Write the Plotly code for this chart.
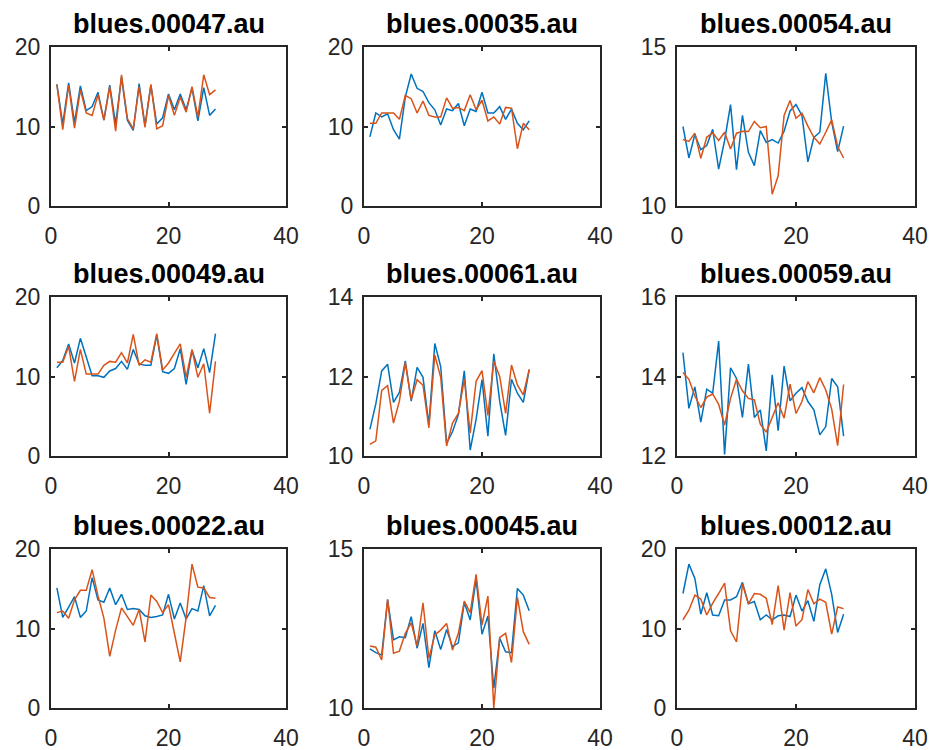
import plotly.graph_objects as go

frames = list(range(1, 29))

titles = ["blues.00047.au", "blues.00035.au", "blues.00054.au",
          "blues.00049.au", "blues.00061.au", "blues.00059.au",
          "blues.00022.au", "blues.00045.au", "blues.00012.au"]

blue_00047 = [15.3, 10.3, 15.5, 10.5, 15.1, 12.0, 12.5, 14.3, 10.8, 15.2, 10.3, 16.2, 10.8, 9.5,
              15.4, 10.1, 15.2, 10.3, 11.1, 14.1, 12.1, 14.1, 12.1, 14.8, 10.7, 14.9, 11.4, 12.2]
orange_00047 = [15.3, 9.6, 15.2, 9.8, 14.6, 11.7, 11.4, 14.0, 10.8, 15.0, 9.4, 16.5, 11.0, 9.7,
                15.0, 9.9, 15.3, 9.7, 10.1, 13.9, 11.4, 13.7, 11.8, 15.0, 11.2, 16.5, 14.0, 14.6]

blue_00035 = [8.7, 11.7, 11.2, 11.6, 9.6, 8.4, 13.7, 16.6, 14.8, 14.4, 13.0, 12.1, 10.2, 12.2,
              12.0, 12.9, 10.1, 12.2, 11.9, 14.3, 11.7, 11.7, 12.5, 10.9, 12.2, 10.4, 9.6, 10.7]
orange_00035 = [10.4, 10.4, 11.7, 11.7, 11.7, 10.9, 13.9, 13.5, 11.7, 13.2, 11.4, 11.2, 11.2, 13.6,
                12.3, 12.4, 12.0, 14.0, 12.1, 13.3, 10.7, 11.2, 10.3, 12.4, 12.3, 7.2, 10.4, 9.6]

blue_00054 = [12.50, 11.51, 12.25, 11.77, 11.90, 12.41, 11.16, 12.06, 13.19, 11.14, 12.85, 11.69, 11.27, 12.37,
              12.00, 12.09, 11.98, 12.35, 12.99, 13.19, 12.85, 11.39, 12.16, 12.32, 14.17, 12.64, 11.71, 12.51]
orange_00054 = [12.09, 12.03, 12.29, 11.50, 12.16, 12.30, 12.06, 12.32, 11.79, 12.29, 12.35, 12.34, 12.66, 12.46,
                12.50, 10.37, 10.95, 12.85, 13.32, 12.76, 12.92, 12.51, 12.16, 11.95, 12.32, 12.71, 11.87, 11.51]

blue_00049 = [11.1, 12.0, 14.1, 11.7, 14.8, 12.5, 10.1, 10.1, 9.9, 10.7, 11.0, 11.9, 10.9, 13.4,
              11.6, 11.4, 11.4, 15.2, 10.6, 10.4, 11.0, 13.5, 9.0, 13.3, 11.1, 13.5, 10.5, 15.4]
orange_00049 = [11.8, 11.8, 13.8, 9.4, 13.4, 10.3, 10.3, 10.3, 11.4, 11.9, 11.8, 13.0, 11.7, 15.3,
                11.4, 12.1, 11.8, 15.4, 10.8, 11.7, 12.9, 14.1, 9.9, 13.4, 9.9, 11.6, 5.4, 11.9]

blue_00061 = [10.67, 11.31, 12.14, 12.31, 11.35, 11.60, 12.39, 11.38, 12.23, 11.98, 10.79, 12.83, 12.25, 10.32,
              10.61, 11.04, 12.14, 10.15, 10.92, 11.92, 10.50, 12.57, 11.38, 10.52, 11.93, 11.58, 11.35, 12.17]
orange_00061 = [10.29, 10.38, 11.65, 11.77, 10.83, 11.38, 12.35, 11.42, 11.92, 11.78, 10.71, 12.54, 11.98, 10.25,
                10.83, 11.07, 11.93, 10.58, 11.88, 12.15, 11.02, 12.38, 12.00, 11.07, 12.29, 11.79, 11.54, 12.18]

blue_00059 = [14.60, 13.20, 13.74, 12.85, 13.68, 13.58, 14.89, 12.04, 14.22, 13.95, 12.97, 14.31, 12.97, 13.16,
              12.13, 14.04, 12.64, 14.26, 13.39, 13.58, 13.72, 13.37, 13.16, 12.53, 12.74, 13.95, 13.74, 12.50]
orange_00059 = [14.10, 13.93, 13.51, 13.22, 13.48, 13.56, 13.30, 12.78, 13.45, 13.93, 13.64, 13.45, 13.41, 12.80,
                12.60, 12.97, 13.34, 12.95, 13.81, 13.07, 13.37, 13.87, 13.59, 13.97, 13.66, 13.18, 12.26, 13.80]

blue_00022 = [15.1, 11.4, 12.7, 14.0, 11.4, 12.2, 16.4, 13.6, 13.3, 15.1, 13.0, 14.3, 12.4, 12.5,
              12.4, 11.6, 11.4, 11.5, 11.7, 14.3, 11.2, 13.2, 11.2, 12.5, 12.2, 15.4, 11.6, 12.9]
orange_00022 = [12.0, 12.2, 11.3, 13.6, 14.8, 14.8, 17.4, 14.1, 11.3, 6.5, 9.8, 12.6, 11.5, 10.4,
                12.4, 8.3, 14.2, 13.4, 12.0, 13.0, 9.4, 5.8, 11.4, 18.1, 15.2, 15.1, 13.9, 13.8]

blue_00045 = [11.86, 11.74, 11.67, 13.40, 12.14, 12.24, 12.21, 12.87, 11.88, 12.66, 11.27, 12.43, 11.84, 12.47,
              11.93, 12.05, 13.32, 12.77, 14.05, 12.32, 12.89, 10.62, 12.19, 11.77, 11.74, 13.76, 13.55, 13.06]
orange_00045 = [11.95, 11.91, 11.51, 13.42, 11.72, 11.79, 12.35, 12.68, 11.95, 13.31, 11.56, 12.30, 12.45, 12.66,
                11.82, 12.35, 13.36, 13.00, 14.20, 12.61, 13.52, 10.00, 12.22, 12.35, 11.43, 13.48, 12.40, 12.00]

blue_00012 = [14.4, 18.1, 16.3, 11.8, 14.5, 11.7, 11.6, 13.6, 13.6, 14.0, 15.8, 13.1, 13.4, 11.1,
              11.7, 11.1, 11.6, 11.7, 11.5, 14.2, 12.2, 13.5, 10.9, 15.5, 17.5, 14.3, 9.5, 11.8]
orange_00012 = [11.1, 12.3, 14.2, 13.7, 11.7, 13.2, 14.4, 15.7, 9.7, 8.3, 15.6, 13.1, 14.4, 14.3,
                13.8, 10.5, 15.4, 9.8, 14.5, 10.3, 11.1, 14.9, 13.1, 13.7, 13.3, 9.3, 12.7, 12.5]

blue_series = [blue_00047, blue_00035, blue_00054, blue_00049, blue_00061,
               blue_00059, blue_00022, blue_00045, blue_00012]
orange_series = [orange_00047, orange_00035, orange_00054, orange_00049, orange_00061,
                 orange_00059, orange_00022, orange_00045, orange_00012]

y_ranges = [[0, 20], [0, 20], [10, 15], [0, 20], [10, 14], [12, 16], [0, 20], [10, 15], [0, 20]]
y_ticks = [[0, 10, 20], [0, 10, 20], [10, 15], [0, 10, 20], [10, 12, 14], [12, 14, 16],
           [0, 10, 20], [10, 15], [0, 10, 20]]
x_ticks = [0, 20, 40]

W, H = 930, 750
col_px = [(51, 286), (364, 600), (677, 915)]
row_px = [(47, 206), (297, 456), (549, 708)]

BLUE = "#0072BD"
ORANGE = "#D95319"
AXC = "#262626"

fig = go.Figure()
annotations = []
for i in range(9):
    r, c = divmod(i, 3)
    n = "" if i == 0 else str(i + 1)
    fig.add_trace(go.Scatter(x=frames, y=blue_series[i], mode="lines",
                             line=dict(color=BLUE, width=1.5), xaxis="x" + n, yaxis="y" + n,
                             showlegend=False, hoverinfo="skip"))
    fig.add_trace(go.Scatter(x=frames, y=orange_series[i], mode="lines",
                             line=dict(color=ORANGE, width=1.5), xaxis="x" + n, yaxis="y" + n,
                             showlegend=False, hoverinfo="skip"))
    x0, x1 = col_px[c]
    t0, t1 = row_px[r]
    common = dict(showline=True, linecolor=AXC, linewidth=2, mirror="ticks",
                  ticks="inside", ticklen=4, tickwidth=1.5, tickcolor=AXC,
                  showgrid=False, zeroline=False, fixedrange=True, automargin=False,
                  tickfont=dict(family="Liberation Sans, Arial", size=23, color=AXC))
    fig.update_layout(**{
        "xaxis" + n: dict(domain=[x0 / W, x1 / W], range=[0, 40], tickvals=x_ticks,
                          anchor="y" + n, ticklabelstandoff=8, **common),
        "yaxis" + n: dict(domain=[1 - t1 / H, 1 - t0 / H], range=y_ranges[i],
                          tickvals=y_ticks[i], anchor="x" + n, ticklabelstandoff=4, **common),
    })
    annotations.append(dict(text="<b>" + titles[i] + "</b>", xref="paper", yref="paper",
                            x=(x0 + x1) / 2 / W, y=1 - (t0 - 23) / H,
                            xanchor="center", yanchor="middle", showarrow=False,
                            font=dict(family="Liberation Sans, Arial", size=27, color="#000000")))

fig.update_layout(width=W, height=H, margin=dict(l=0, r=0, t=0, b=0, autoexpand=False),
                  paper_bgcolor="white", plot_bgcolor="white", annotations=annotations)
fig.write_html("out.html")
